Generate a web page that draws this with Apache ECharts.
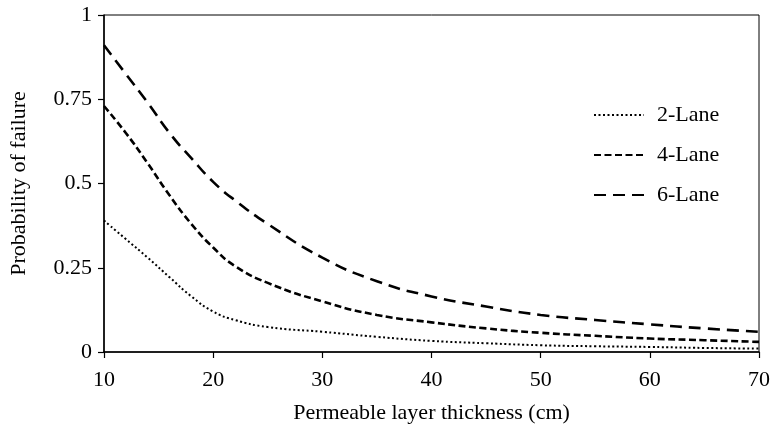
<!DOCTYPE html>
<html>
<head>
<meta charset="utf-8">
<script src="https://cdn.jsdelivr.net/npm/echarts@6/dist/echarts.min.js"></script>
<style>html,body{margin:0;padding:0;background:#fff}#c{width:773px;height:433px}</style>
</head>
<body>
<div id="c"></div>
<script>
var xValues = [10, 12, 14, 16, 18, 20, 22, 25, 30, 35, 40, 45, 50, 55, 60, 65, 70];
var lane2 = [0.39, 0.335, 0.28, 0.222, 0.165, 0.12, 0.095, 0.074, 0.06, 0.045, 0.033, 0.026, 0.02, 0.017, 0.015, 0.012, 0.01];
var lane4 = [0.73, 0.65, 0.56, 0.465, 0.38, 0.31, 0.255, 0.205, 0.15, 0.11, 0.088, 0.07, 0.057, 0.048, 0.04, 0.035, 0.03];
var lane6 = [0.91, 0.825, 0.74, 0.65, 0.575, 0.505, 0.45, 0.38, 0.28, 0.21, 0.165, 0.135, 0.11, 0.095, 0.082, 0.07, 0.06];
var seriesNames = ['2-Lane', '4-Lane', '6-Lane'];
var yTicks = [0, 0.25, 0.5, 0.75, 1];

function pairs(ys) { return xValues.map(function (x, i) { return [x, ys[i]]; }); }

var font = 'Liberation Serif';
var chart = echarts.init(document.getElementById('c'));
chart.setOption({
  animation: false,
  backgroundColor: '#fff',
  grid: { left: 101, right: 14, top: 15, bottom: 81, show: true, borderColor: '#000', borderWidth: 1 },
  legend: {
    orient: 'vertical', left: 588, top: 99, itemWidth: 50, itemHeight: 14, itemGap: 18,
    itemStyle: { opacity: 0 },
    textStyle: { fontFamily: font, fontSize: 22, color: '#000', padding: [0, 0, 0, 8] },
    data: seriesNames
  },
  xAxis: {
    type: 'value', min: 10, max: 70, interval: 10,
    name: 'Permeable layer thickness (cm)', nameLocation: 'middle', nameGap: 50,
    nameTextStyle: { fontFamily: font, fontSize: 22, color: '#000' },
    axisLine: { lineStyle: { color: '#000', width: 1.5 } },
    axisTick: { length: 6, lineStyle: { color: '#000', width: 1.2 } },
    axisLabel: { fontFamily: font, fontSize: 22, color: '#000', margin: 17 },
    splitLine: { show: false }
  },
  yAxis: {
    type: 'value', min: yTicks[0], max: yTicks[yTicks.length - 1], interval: 0.25,
    name: 'Probability of failure', nameLocation: 'middle', nameGap: 74,
    nameTextStyle: { fontFamily: font, fontSize: 22, color: '#000' },
    axisLine: { show: true, lineStyle: { color: '#000', width: 1.5 } },
    axisTick: { show: true, length: 6, lineStyle: { color: '#000', width: 1.2 } },
    axisLabel: { fontFamily: font, fontSize: 22, color: '#000', margin: 12 },
    splitLine: { show: false }
  },
  series: [
    { name: seriesNames[0], type: 'line', data: pairs(lane2), smooth: 0.5, symbol: 'none',
      lineStyle: { color: '#000', width: 2, type: [2, 2.5] }, itemStyle: { color: '#000' } },
    { name: seriesNames[1], type: 'line', data: pairs(lane4), smooth: 0.5, symbol: 'none',
      lineStyle: { color: '#000', width: 2.6, type: [7, 3.5] }, itemStyle: { color: '#000' } },
    { name: seriesNames[2], type: 'line', data: pairs(lane6), smooth: 0.5, symbol: 'none',
      lineStyle: { color: '#000', width: 2.6, type: [12, 7] }, itemStyle: { color: '#000' } }
  ]
});
</script>
</body>
</html>
